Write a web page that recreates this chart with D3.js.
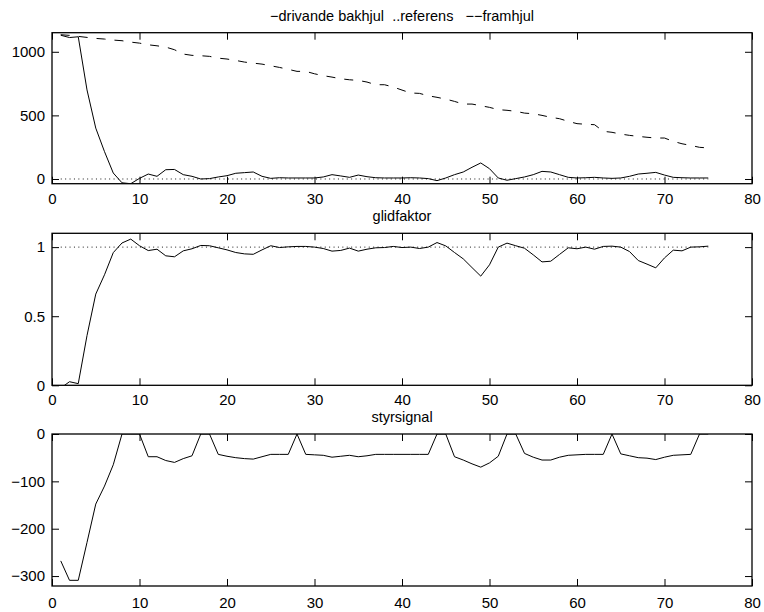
<!DOCTYPE html>
<html><head><meta charset="utf-8">
<script src="https://cdn.jsdelivr.net/npm/d3@7"></script>
<style>
body{margin:0;background:#fff}
svg text{font-family:"Liberation Sans",Arial,Helvetica,sans-serif;fill:#000}
</style>
</head><body>
<svg id="c" width="764" height="612"></svg>
<script>
// ---- data (sample index 1..75) ----
const xTicks = [0,10,20,30,40,50,60,70,80];

const drivandeBakhjul = [1130,1112,1118,700,400,215,47,-30,-37,5,39,21,73,75,34,21,0,3,16,26,45,50,55,21,5,10,8,8,8,8,16,34,24,13,31,18,10,8,8,8,10,8,3,-13,8,34,55,92,126,81,8,-10,3,16,34,60,55,34,13,8,10,13,8,5,8,21,39,45,52,31,13,10,8,8,8];

const framhjul = [1134,1129,1121,1113,1105,1100,1092,1087,1076,1068,1055,1047,1037,1016,982,972,969,964,950,943,932,919,911,903,890,877,862,846,846,827,812,801,788,780,775,762,741,741,723,699,676,673,654,642,628,610,589,589,576,563,545,540,532,518,513,500,485,474,453,435,430,427,375,367,353,343,335,328,322,322,296,277,264,249,244];

const referensX = [1, 75];
const referensTop = [0, 0];
const referensGlid = [1, 1];

const glidfaktor = [-0.02,0.026,0.012,0.36,0.66,0.8,0.96,1.03,1.058,1.01,0.975,0.985,0.937,0.93,0.973,0.988,1.012,1.01,0.995,0.98,0.961,0.951,0.948,0.98,1.01,0.997,1.002,1.005,1.005,1.0,0.99,0.971,0.976,0.993,0.971,0.985,0.995,0.997,1.005,0.997,1.0,0.99,1.0,1.033,1.009,0.961,0.915,0.852,0.79,0.872,1.0,1.029,1.01,0.992,0.944,0.893,0.898,0.947,0.995,0.988,1.0,0.985,1.005,1.007,1.0,0.968,0.903,0.877,0.85,0.922,0.978,0.973,1.0,1.002,1.007];

const styrsignal = [-268,-309,-309,-229,-148,-110,-65,0,0,0,-48,-48,-56,-60,-52,-46,0,0,-43,-47,-50,-52,-53,-48,-43,-43,-43,0,-43,-44,-45,-49,-47,-45,-48,-46,-43,-43,-43,-43,-43,-43,-43,0,0,-48,-55,-63,-70,-61,-47,0,0,-41,-49,-55,-55,-49,-45,-44,-43,-43,-43,0,-42,-46,-50,-51,-54,-49,-45,-44,-43,0,0];

const titles = ["\u2212drivande bakhjul  ..referens   \u2212\u2212framhjul", "glidfaktor", "styrsignal"];
const yTicksTop = [0,500,1000];
const yTicksGlid = [0,0.5,1];
const yTicksStyr = [-300,-200,-100,0];

// ---- layout ----
const svg = d3.select("#c");
const L = 52, R = 752;
const panels = [
  {top:32.7, bottom:183.7, dom:[-37,1150], ticks:yTicksTop, title:titles[0], pad:9.5,
   series:[{v:drivandeBakhjul, dash:null},{v:framhjul, dash:"9,9"}],
   ref:referensTop},
  {top:233.3, bottom:385.3, dom:[0,1.1], ticks:yTicksGlid, title:titles[1], pad:9,
   series:[{v:glidfaktor, dash:null}], ref:referensGlid},
  {top:434, bottom:586, dom:[-321,0], ticks:yTicksStyr, title:titles[2], pad:11,
   series:[{v:styrsignal, dash:null}], ref:null}
];

const x = d3.scaleLinear().domain([0,80]).range([L,R]);
const fmt = d => d3.format("")(d).replace("-", "\u2212");

panels.forEach((p,i) => {
  const y = d3.scaleLinear().domain(p.dom).range([p.bottom,p.top]);
  const g = svg.append("g");
  const clipId = "clip"+i;
  svg.append("clipPath").attr("id",clipId).append("rect")
    .attr("x",L).attr("y",p.top).attr("width",R-L).attr("height",p.bottom-p.top);

  const line = d3.line().x((d,j)=>x(j+1)).y(d=>y(d));
  const lg = g.append("g").attr("clip-path",`url(#${clipId})`);
  if (p.ref) {
    lg.append("path")
      .attr("d", d3.line().x((d,j)=>x(referensX[j])).y(d=>y(d))(p.ref))
      .attr("fill","none").attr("stroke","#000").attr("stroke-width",0.9)
      .attr("stroke-dasharray","1,3.4");
  }
  p.series.forEach(s => {
    lg.append("path").attr("d", line(s.v)).attr("fill","none")
      .attr("stroke","#000").attr("stroke-width",1)
      .attr("stroke-dasharray", s.dash);
  });

  const tk = 7;
  const ax = d3.axisBottom(x).tickValues(xTicks).tickSize(-tk).tickPadding(p.pad).tickFormat(d3.format("d"));
  g.append("g").attr("transform",`translate(0,${p.bottom})`).call(ax);
  g.append("g").attr("transform",`translate(0,${p.top})`)
    .call(d3.axisTop(x).tickValues(xTicks).tickSize(-tk).tickFormat(""));
  g.append("g").attr("transform",`translate(${L},0)`)
    .call(d3.axisLeft(y).tickValues(p.ticks).tickSize(-tk).tickPadding(7).tickFormat(fmt));
  g.append("g").attr("transform",`translate(${R},0)`)
    .call(d3.axisRight(y).tickValues(p.ticks).tickSize(-tk).tickFormat(""));
  g.selectAll(".domain").remove();
  g.selectAll(".tick line").attr("stroke","#000").attr("stroke-width",1);
  g.selectAll(".tick text").attr("font-size",15).attr("font-family","Liberation Sans, Arial, sans-serif");

  g.append("rect").attr("x",L).attr("y",p.top).attr("width",R-L).attr("height",p.bottom-p.top)
    .attr("fill","none").attr("stroke","#000").attr("stroke-width",1.3);

  g.append("text").attr("x",(L+R)/2).attr("y",p.top-12).attr("text-anchor","middle")
    .attr("font-size",14.5).style("white-space","pre").text(p.title);
});
</script>
</body></html>
